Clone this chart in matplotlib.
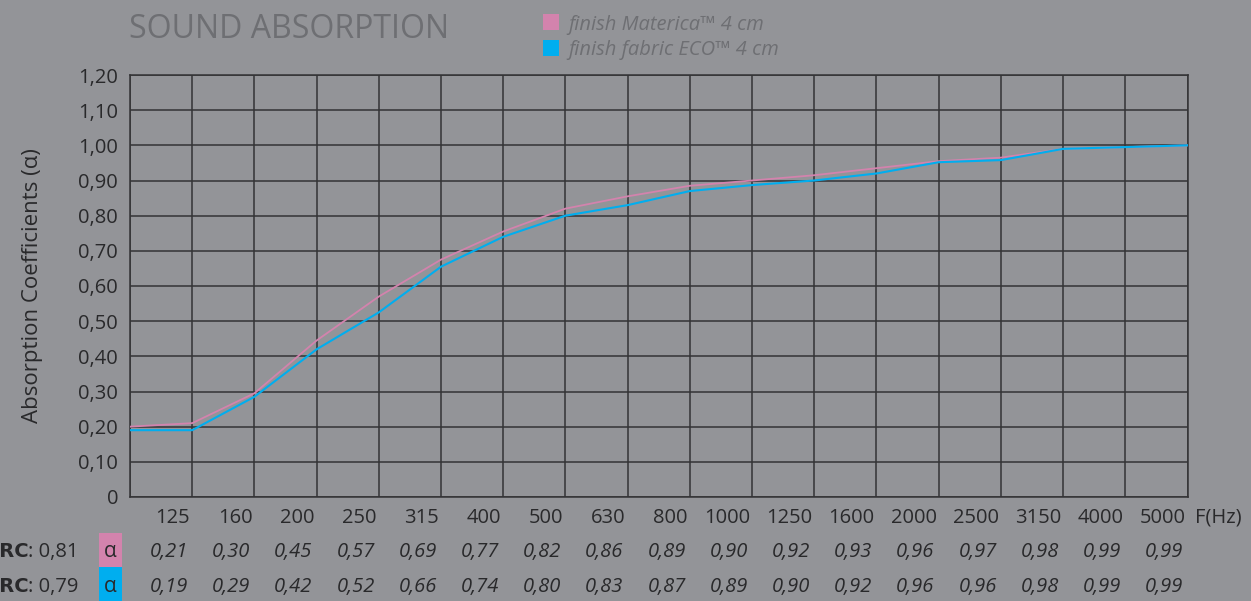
import matplotlib
matplotlib.use("Agg")
import matplotlib.pyplot as plt
from matplotlib.patches import Rectangle

plt.rcParams['font.family'] = ['Open Sans', 'DejaVu Sans']

# frequency bands (Hz)
freqs = ["125", "160", "200", "250", "315", "400", "500", "630", "800", "1000",
         "1250", "1600", "2000", "2500", "3150", "4000", "5000"]

# values printed in the table
materica_tab = [0.21, 0.30, 0.45, 0.57, 0.69, 0.77, 0.82, 0.86, 0.89, 0.90,
                0.92, 0.93, 0.96, 0.97, 0.98, 0.99, 0.99]
eco_tab = [0.19, 0.29, 0.42, 0.52, 0.66, 0.74, 0.80, 0.83, 0.87, 0.89,
           0.90, 0.92, 0.96, 0.96, 0.98, 0.99, 0.99]

# curves as drawn (first point is the left edge of the grid)
materica_curve = [0.20, 0.21, 0.295, 0.445, 0.57, 0.675, 0.755, 0.82, 0.855, 0.885,
                  0.90, 0.915, 0.935, 0.955, 0.965, 0.99, 0.995, 1.0]
eco_curve = [0.19, 0.19, 0.285, 0.42, 0.525, 0.655, 0.74, 0.80, 0.83, 0.87,
             0.887, 0.90, 0.92, 0.952, 0.958, 0.99, 0.995, 1.0]

nrc = ["0,81", "0,79"]
legend_labels = ["finish Materica™ 4 cm", "finish fabric ECO™ 4 cm"]

BG = '#939498'
GRID = '#333335'
DARK = '#29292b'
LIGHT = '#6e6f73'
PINK = '#d383ad'
BLUE = '#00aeef'

W, H = 1251, 601
fig = plt.figure(figsize=(W / 100, H / 100), dpi=100, facecolor=BG)


def fx(px):
    return px / W


def fy(py):
    return 1 - py / H


ax_l, ax_r, ax_t, ax_b = 130, 1187.5, 75, 497
ax = fig.add_axes([fx(ax_l), fy(ax_b), fx(ax_r - ax_l), (ax_b - ax_t) / H])
ax.set_facecolor(BG)

xs = list(range(len(materica_curve)))
ax.plot(xs, materica_curve, color=PINK, lw=1.3, zorder=3)
ax.plot(xs, eco_curve, color=BLUE, lw=1.5, zorder=4)

ax.set_xlim(0, len(freqs))
ax.set_ylim(0, 1.2)
yt = [i / 10 for i in range(13)]
ax.set_yticks(yt)
ax.set_yticklabels(["0"] + [("%.2f" % v).replace('.', ',') for v in yt[1:]],
                   fontsize=14.5, color=DARK)
ax.set_xticks(range(len(freqs) + 1))
ax.set_xticklabels([])
ax.tick_params(axis='both', length=0)
ax.tick_params(axis='y', pad=8.5)
ax.grid(True, color=GRID, lw=1.1, zorder=1)
ax.set_axisbelow(True)
for s in ax.spines.values():
    s.set_color(GRID)
    s.set_linewidth(1.1)

ax.set_ylabel("Absorption Coefficients (α)", fontsize=16, color=DARK, labelpad=25)

# frequency labels and table rows below the axes
for i, f in enumerate(freqs):
    ax.annotate(f, xy=(i + 1, 0), xycoords=('data', 'axes fraction'),
                xytext=(-2, ax_b - 523), textcoords='offset pixels',
                ha='right', va='baseline', fontsize=14.5, color=DARK)
    for vals, base in ((materica_tab, 557), (eco_tab, 592)):
        ax.annotate(("%.2f" % vals[i]).replace('.', ','), xy=(i + 1, 0),
                    xycoords=('data', 'axes fraction'),
                    xytext=(-4, ax_b - base), textcoords='offset pixels',
                    ha='right', va='baseline', fontsize=14.5, color=DARK,
                    style='italic')

fig.text(fx(1195), fy(523), "F(Hz)", ha='left', va='baseline', fontsize=14.5, color=DARK)

# NRC labels, clipped at the left edge like the original
for val, base, col, (top, bot) in ((nrc[0], 557, PINK, (533, 567)),
                                   (nrc[1], 592, BLUE, (567, 601))):
    fig.text(fx(28.5), fy(base), "NRC", ha='right', va='baseline', fontsize=14,
             color=DARK, weight='bold', family='DejaVu Sans')
    fig.text(fx(28.5), fy(base), ": " + val, ha='left', va='baseline', fontsize=14.5,
             color=DARK)
    fig.add_artist(Rectangle((fx(99), fy(bot)), fx(23), (bot - top) / H,
                             transform=fig.transFigure, color=col, lw=0))
    fig.text(fx(110.5), fy(base), "α", ha='center', va='baseline', fontsize=15,
             color=DARK)

# title and legend
fig.text(fx(129), fy(38), "SOUND ABSORPTION", ha='left', va='baseline',
         fontsize=23, color=LIGHT)
for lab, col, base, top in ((legend_labels[0], PINK, 30, 14),
                            (legend_labels[1], BLUE, 55, 40)):
    fig.add_artist(Rectangle((fx(543), fy(top + 16)), fx(16), 16 / H,
                             transform=fig.transFigure, color=col, lw=0))
    fig.text(fx(568), fy(base), lab, ha='left', va='baseline', fontsize=14.5,
             color=LIGHT, style='italic')

fig.savefig("out.png", dpi=100, facecolor=BG)
